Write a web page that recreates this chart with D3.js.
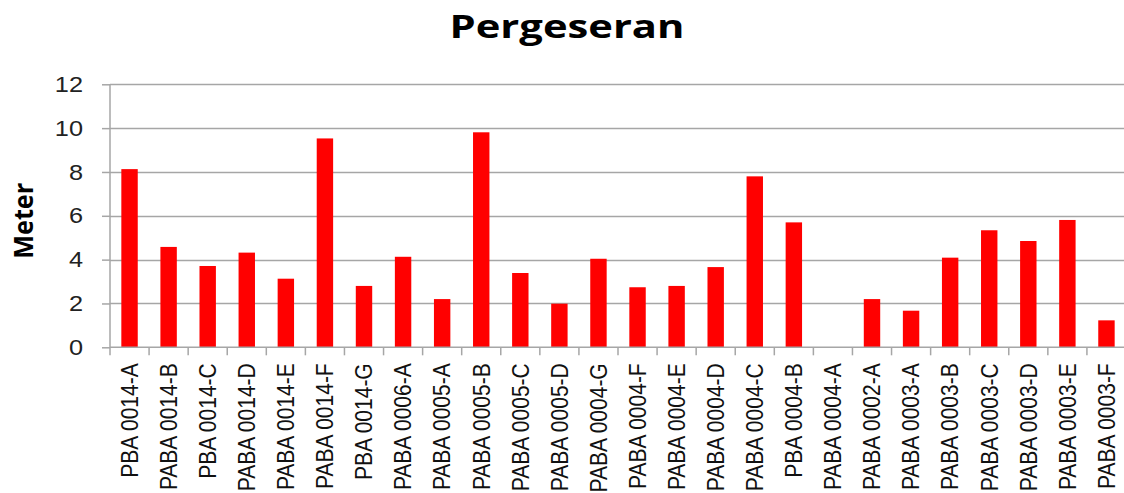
<!DOCTYPE html>
<html>
<head>
<meta charset="utf-8">
<script src="https://cdn.jsdelivr.net/npm/d3@7"></script>
<style>
  body { margin: 0; background: #fff; }
  svg { display: block; }
</style>
</head>
<body>
<script>
// Data
const categories = [
  "PBA 0014-A", "PABA 0014-B", "PBA 0014-C", "PABA 0014-D", "PABA 0014-E",
  "PABA 0014-F", "PBA 0014-G", "PABA 0006-A", "PABA 0005-A", "PABA 0005-B",
  "PABA 0005-C", "PABA 0005-D", "PABA 0004-G", "PABA 0004-F", "PABA 0004-E",
  "PABA 0004-D", "PABA 0004-C", "PBA 0004-B", "PABA 0004-A", "PABA 0002-A",
  "PABA 0003-A", "PABA 0003-B", "PABA 0003-C", "PABA 0003-D", "PABA 0003-E",
  "PABA 0003-F"
];
const values = [
  8.13, 4.58, 3.71, 4.32, 3.13, 9.53, 2.80, 4.13, 2.20, 9.81,
  3.39, 1.99, 4.04, 2.74, 2.80, 3.66, 7.80, 5.70, 0, 2.20,
  1.67, 4.09, 5.34, 4.85, 5.81, 1.23
];
const yTicks = [0, 2, 4, 6, 8, 10, 12];

const w = 1124;
const h = 493;

const svg = d3.select("body")
  .append("svg")
  .attr("width", w)
  .attr("height", h);

// plot area
const plotLeft = 110, plotRight = 1126, plotTop = 84.3, plotBottom = 347.3;

const xScale = d3.scaleBand()
  .domain(categories)
  .range([plotLeft, plotRight])
  .paddingInner(0.58)
  .paddingOuter(0.29);

const band = d3.scaleBand().domain(categories).range([plotLeft, plotRight]);

const yScale = d3.scaleLinear()
  .domain([0, 12])
  .range([plotBottom, plotTop]);

// gridlines
svg.append("g")
  .selectAll("line")
  .data(yTicks.filter(d => d > 0))
  .enter()
  .append("line")
  .attr("x1", plotLeft)
  .attr("x2", w)
  .attr("y1", d => Math.round(yScale(d)) + 0.5)
  .attr("y2", d => Math.round(yScale(d)) + 0.5)
  .attr("stroke", "#a6a6a6")
  .attr("stroke-width", 1.5);

// bars
svg.append("g")
  .selectAll("rect")
  .data(values)
  .enter()
  .append("rect")
  .attr("x", (d, i) => xScale(categories[i]))
  .attr("y", d => yScale(d))
  .attr("width", xScale.bandwidth())
  .attr("height", d => plotBottom - yScale(d))
  .attr("fill", "#ff0000");

// y axis
const yAxis = d3.axisLeft(yScale)
  .tickValues(yTicks)
  .tickSize(8)
  .tickPadding(9);

const yAxisG = svg.append("g")
  .attr("transform", `translate(${plotLeft},0)`)
  .call(yAxis);
yAxisG.select(".domain").remove();
yAxisG.selectAll(".tick line").attr("stroke", "#a6a6a6").attr("stroke-width", 1.5);
yAxisG.selectAll(".tick text")
  .attr("x", 0)
  .attr("transform", "translate(-27,0) scale(1.15,1)")
  .attr("font-family", "Liberation Sans, Arial, sans-serif")
  .attr("font-size", 22)
  .attr("fill", "#222");

svg.append("line")
  .attr("x1", plotLeft).attr("x2", plotLeft)
  .attr("y1", plotTop).attr("y2", plotBottom + 8)
  .attr("stroke", "#a6a6a6")
  .attr("stroke-width", 1.5);

// x axis
svg.append("line")
  .attr("x1", plotLeft).attr("x2", w)
  .attr("y1", plotBottom).attr("y2", plotBottom)
  .attr("stroke", "#a6a6a6")
  .attr("stroke-width", 1.5);

svg.append("g")
  .selectAll("line")
  .data(categories.slice(1))
  .enter()
  .append("line")
  .attr("x1", d => band(d))
  .attr("x2", d => band(d))
  .attr("y1", plotBottom)
  .attr("y2", plotBottom + 8)
  .attr("stroke", "#a6a6a6")
  .attr("stroke-width", 1.5);

svg.append("g")
  .selectAll("text")
  .data(categories)
  .enter()
  .append("text")
  .attr("transform", d => `translate(${band(d) + band.bandwidth() / 2},${plotBottom + 16}) rotate(-90) scale(1,1.1)`)
  .attr("dy", "0.36em")
  .attr("text-anchor", "end")
  .attr("font-family", "Liberation Sans, Arial, sans-serif")
  .attr("font-size", 21)
  .attr("fill", "#111")
  .text(d => d);

// title
svg.append("text")
  .attr("x", 567)
  .attr("y", 38)
  .attr("text-anchor", "middle")
  .attr("font-family", "Open Sans, sans-serif")
  .attr("font-weight", "bold")
  .attr("font-size", 32)
  .attr("textLength", 235)
  .attr("lengthAdjust", "spacingAndGlyphs")
  .attr("fill", "#000")
  .text("Pergeseran");

// y label
svg.append("text")
  .attr("transform", `translate(24,${(plotTop + plotBottom) / 2 + 5}) rotate(-90)`)
  .attr("text-anchor", "middle")
  .attr("dy", "0.35em")
  .attr("font-family", "Open Sans, sans-serif")
  .attr("font-weight", "bold")
  .attr("font-size", 26)
  .attr("textLength", 76)
  .attr("lengthAdjust", "spacingAndGlyphs")
  .attr("fill", "#000")
  .text("Meter");
</script>
</body>
</html>
